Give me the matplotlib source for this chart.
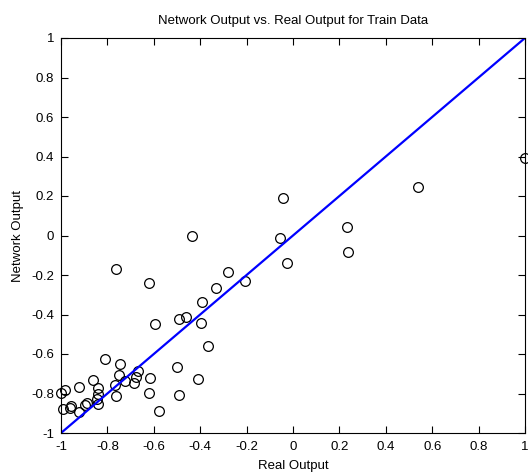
import matplotlib
matplotlib.use('Agg')
import matplotlib.pyplot as plt
import numpy as np

plt.rcParams['font.family'] = ['Liberation Sans', 'DejaVu Sans']

# real output (x) and network output (y)
real_out = [-0.764, -0.620, -0.434, -0.280, -0.209, -0.332, -0.392, -0.398,
            -0.460, -0.490, -0.593, -0.368, -0.811, -0.744, -0.666, -0.499,
            -0.752, -0.675, -0.616, -0.410, -0.724, -0.686, -0.767, -0.862,
            -0.840, -0.924, -0.984, -1.000, -0.840, -0.620, -0.765, -0.490,
            -0.846, -0.840, -0.886, -0.896, -0.957, -0.963, -0.990, -0.922,
            -0.577, -0.042, -0.055, -0.024, 0.234, 0.239, 0.537, 1.000]
net_out = [-0.171, -0.239, -0.003, -0.185, -0.229, -0.267, -0.338, -0.445,
           -0.411, -0.423, -0.447, -0.559, -0.625, -0.651, -0.685, -0.666,
           -0.708, -0.715, -0.720, -0.725, -0.735, -0.745, -0.759, -0.732,
           -0.771, -0.767, -0.784, -0.799, -0.801, -0.799, -0.811, -0.809,
           -0.830, -0.852, -0.850, -0.857, -0.865, -0.872, -0.877, -0.892,
           -0.889, 0.190, -0.013, -0.138, 0.041, -0.082, 0.244, 0.391]

fit_x = [-1, 1]
fit_y = [-1, 1]

ticks = [-1, -0.8, -0.6, -0.4, -0.2, 0, 0.2, 0.4, 0.6, 0.8, 1]
tick_labels = ['-1', '-0.8', '-0.6', '-0.4', '-0.2', '0', '0.2', '0.4', '0.6', '0.8', '1']

fig = plt.figure(figsize=(5.28, 4.72), dpi=100)
ax = fig.add_axes([61 / 528, 39 / 472, 464 / 528, 395 / 472])

ax.plot(real_out, net_out, 'o', markerfacecolor='none', markeredgecolor='black',
        markersize=7, markeredgewidth=0.9, clip_on=False)
ax.plot(fit_x, fit_y, color='#0000ff', linewidth=1.6)

ax.set_xlim(-1, 1)
ax.set_ylim(-1, 1)
ax.set_xticks(ticks)
ax.set_xticklabels(tick_labels)
ax.set_yticks(ticks)
ax.set_yticklabels(tick_labels)
ax.tick_params(direction='in', top=True, right=True, length=5, width=0.8,
               labelsize=9.5)
ax.tick_params(axis='x', pad=6)
ax.tick_params(axis='y', pad=5)
for s in ax.spines.values():
    s.set_linewidth(0.8)

ax.set_title('Network Output vs. Real Output for Train Data', fontsize=9.5, pad=10)
ax.set_xlabel('Real Output', fontsize=9.5, labelpad=5)
ax.set_ylabel('Network Output', fontsize=9.5, labelpad=5)

plt.savefig('out.png', dpi=100)
